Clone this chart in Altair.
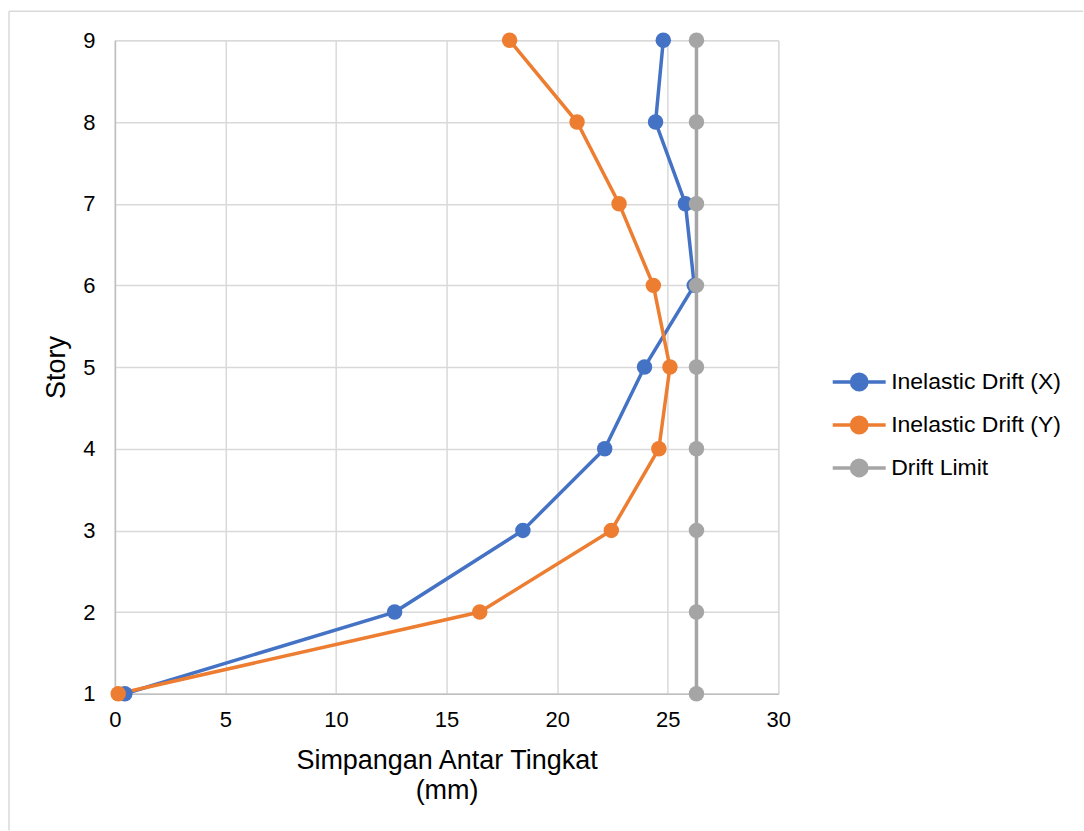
import altair as alt
import pandas as pd

stories = [1, 2, 3, 4, 5, 6, 7, 8, 9]
drift_x = [0.45, 12.65, 18.45, 22.15, 23.95, 26.2, 25.8, 24.45, 24.8]
drift_y = [0.15, 16.5, 22.45, 24.6, 25.1, 24.35, 22.8, 20.9, 17.85]
drift_limit = [26.3] * 9
series_names = ["Inelastic Drift (X)", "Inelastic Drift (Y)", "Drift Limit"]
series_colors = ["#4472C4", "#ED7D31", "#A5A5A5"]

rows = []
for name, vals in zip(series_names, [drift_x, drift_y, drift_limit]):
    for s, v in zip(stories, vals):
        rows.append({"series": name, "story": s, "drift": v})
df = pd.DataFrame(rows)

FONT = "Liberation Sans"
W, H = 664, 654

color = alt.Color(
    "series:N",
    scale=alt.Scale(domain=series_names, range=series_colors),
    legend=alt.Legend(
        title=None,
        orient="none",
        legendX=730,
        legendY=327,
        symbolType="M-2,0L2,0M-0.58,0A0.58,0.58 0 1,1 0.58,0A0.58,0.58 0 1,1 -0.58,0Z",
        symbolSize=702,
        symbolStrokeWidth=3.5,
        labelFont=FONT,
        labelFontSize=23,
        labelColor="#000000",
        labelOffset=17,
        rowPadding=13,
        labelLimit=400,
    ),
)

x = alt.X(
    "drift:Q",
    scale=alt.Scale(domain=[0, 30], nice=False),
    axis=alt.Axis(
        values=[0, 5, 10, 15, 20, 25, 30],
        title=["Simpangan Antar Tingkat", "(mm)"],
        titleFont=FONT,
        titleFontSize=27,
        titleFontWeight="normal",
        titleColor="#000000",
        titlePadding=17,
        titleLineHeight=30,
        labelFont=FONT,
        labelFontSize=22,
        labelColor="#000000",
        labelPadding=16,
        labelFlush=False,
        ticks=False,
        domainColor="#BFBFBF",
        domainWidth=1.5,
        gridColor="#D9D9D9",
        gridWidth=1.5,
    ),
)
y = alt.Y(
    "story:Q",
    scale=alt.Scale(domain=[1, 9], nice=False, zero=False),
    axis=alt.Axis(
        values=stories,
        title="Story",
        titleFont=FONT,
        titleFontSize=27,
        titleFontWeight="normal",
        titleColor="#000000",
        titlePadding=12,
        labelFont=FONT,
        labelFontSize=22,
        labelColor="#000000",
        labelPadding=20,
        labelFlush=False,
        ticks=False,
        domainColor="#BFBFBF",
        domainWidth=1.5,
        gridColor="#D9D9D9",
        gridWidth=1.5,
    ),
)

one = pd.DataFrame({"a": [0]})
frame_top = alt.Chart(one).mark_rule(stroke="#D9D9D9", strokeWidth=1.5).encode(
    x=alt.value(-106), x2=alt.value(969), y=alt.value(-29)
)
frame_left = alt.Chart(one).mark_rule(stroke="#D9D9D9", strokeWidth=1.5).encode(
    x=alt.value(-106), y=alt.value(-29), y2=alt.value(791)
)

lines = alt.Chart(df).mark_line(strokeWidth=3.5).encode(
    x=x, y=y, color=color, order=alt.Order("story:Q")
)
points = alt.Chart(df).mark_point(filled=True, size=240, opacity=1).encode(
    x=x, y=y, color=color
)

chart = alt.layer(lines, points, frame_top, frame_left).properties(
    width=W, height=H, padding={"left": 8, "top": 10, "right": 0, "bottom": 0}
).configure_view(stroke=None).configure(background="white")

chart.save("out.html", embed_options={"renderer": "svg", "actions": False})
